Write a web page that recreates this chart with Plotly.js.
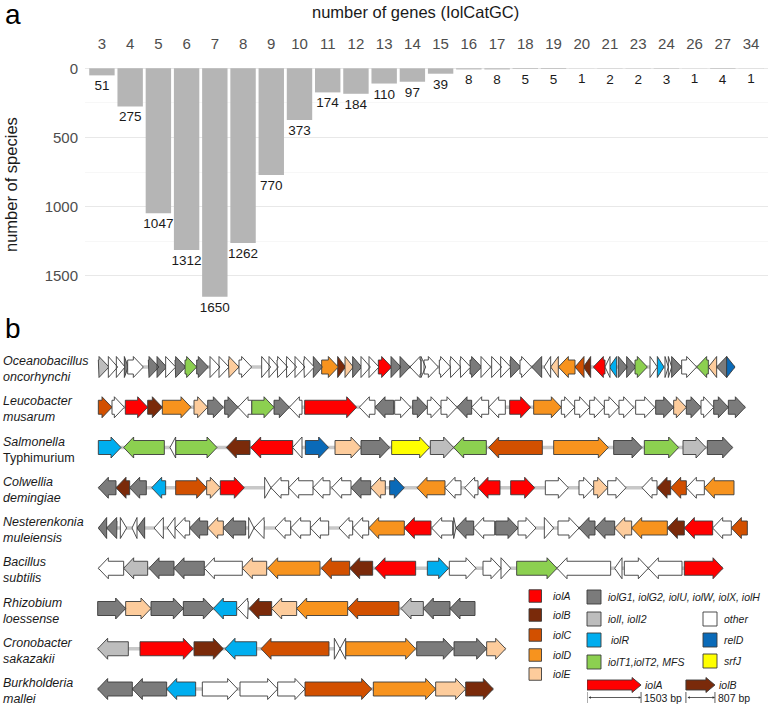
<!DOCTYPE html>
<html>
<head>
<meta charset="utf-8">
<script src="https://cdn.plot.ly/plotly-3.0.1.min.js"></script>
<style>html,body{margin:0;padding:0;background:#fff}#chart{width:771px;height:706px}</style>
</head>
<body>
<div id="chart"></div>
<script>
// ---------------- Panel a data ----------------
const geneCounts = ['3','4','5','6','7','8','9','10','11','12','13','14','15','16','17','18','19','20','21','23','24','26','27','34'];
const speciesCounts = [51,275,1047,1312,1650,1262,770,373,174,184,110,97,39,8,8,5,5,1,2,2,3,1,4,1];

// ---------------- Panel b data ----------------
// each gene: [start, end, class, strand]   (positions in scaled genomic units)
const speciesLine1 = ['Oceanobacillus','Leucobacter','Salmonella','Colwellia','Nesterenkonia','Bacillus','Rhizobium','Cronobacter','Burkholderia'];
const speciesLine2 = ['oncorhynchi','musarum','Typhimurium','demingiae','muleiensis','subtilis','loessense','sakazakii','mallei'];
const speciesLine2Italic = [true,true,false,true,true,true,true,true,true];

const genesOceanobacillus = [[10,42,'I',1],[40,68,'O',1],[64,90,'O',1],[88,100,'G',1],[98,145,'O',1],[160,192,'G',1],[186,215,'G',1],[212,242,'O',1],[240,272,'G',1],[270,305,'T',1],[305,340,'G',1],[345,375,'O',1],[372,402,'O',1],[400,432,'E',1],[432,470,'O',1],[500,527,'O',1],[522,550,'O',1],[546,578,'O',1],[574,605,'O',1],[600,630,'O',1],[626,658,'O',1],[655,682,'G',1],[680,730,'D',1],[728,752,'B',1],[750,775,'E',1],[773,800,'G',1],[798,826,'O',1],[822,852,'O',1],[850,890,'A',1],[888,918,'G',1],[915,945,'G',1],[945,978,'O',-1],[978,992,'O',1],[987,1030,'O',1],[1033,1067,'O',1],[1065,1097,'O',1],[1095,1127,'O',1],[1125,1160,'G',1],[1158,1187,'O',1],[1190,1220,'O',1],[1217,1247,'O',1],[1245,1277,'G',1],[1275,1310,'O',1],[1310,1340,'G',-1],[1347,1367,'O',-1],[1367,1390,'E',-1],[1390,1440,'D',-1],[1440,1467,'C',-1],[1465,1487,'B',-1],[1495,1530,'A',-1],[1530,1545,'O',-1],[1543,1565,'R',-1],[1570,1597,'G',1],[1595,1623,'G',1],[1620,1657,'T',1],[1665,1687,'O',1],[1687,1707,'R',1],[1710,1720,'O',1],[1720,1730,'O',1],[1730,1760,'G',1],[1760,1805,'O',1],[1805,1840,'T',-1],[1840,1865,'E',-1],[1865,1897,'G',-1],[1895,1920,'L',1]];
const genesLeucobacter = [[10,51,'C',1],[51,88,'O',1],[91,158,'A',1],[158,202,'B',1],[202,288,'D',1],[297,338,'E',1],[338,385,'G',1],[389,429,'G',1],[429,470,'O',-1],[470,537,'T',1],[537,583,'G',1],[583,621,'O',-1],[629,785,'A',1],[793,840,'O',-1],[840,896,'G',-1],[899,947,'O',1],[953,997,'G',1],[997,1038,'O',1],[1038,1086,'O',1],[1086,1130,'G',-1],[1130,1181,'O',-1],[1181,1231,'O',-1],[1244,1307,'A',1],[1316,1399,'D',1],[1399,1439,'O',1],[1439,1484,'O',1],[1484,1528,'O',1],[1528,1572,'O',1],[1572,1616,'O',1],[1622,1679,'O',1],[1682,1736,'G',1],[1736,1774,'E',1],[1774,1818,'G',1],[1818,1856,'O',1],[1856,1900,'G',1],[1900,1951,'G',1]];
const genesSalmonella = [[10,78,'R',1],[86,208,'T',-1],[225,242,'O',-1],[242,366,'T',1],[394,465,'B',-1],[467,593,'A',-1],[593,621,'O',-1],[631,701,'L',1],[720,798,'E',1],[798,884,'G',1],[890,1004,'S',1],[1006,1076,'I',1],[1076,1174,'T',-1],[1181,1342,'C',-1],[1376,1540,'D',1],[1556,1641,'G',1],[1648,1751,'T',1],[1764,1833,'I',1],[1837,1913,'G',1]];
const genesColwellia = [[10,63,'G',-1],[63,104,'B',-1],[104,154,'G',-1],[170,212,'R',-1],[242,335,'C',1],[335,376,'E',1],[376,448,'A',1],[509,528,'O',1],[528,581,'O',-1],[581,654,'O',-1],[654,705,'O',-1],[710,768,'O',-1],[768,827,'G',-1],[827,871,'E',-1],[884,928,'L',1],[966,1050,'D',-1],[1050,1098,'O',-1],[1109,1149,'O',-1],[1149,1215,'A',-1],[1247,1319,'A',1],[1351,1420,'O',1],[1452,1496,'O',1],[1496,1538,'E',1],[1538,1593,'O',1],[1641,1686,'O',-1],[1686,1727,'B',-1],[1727,1774,'C',-1],[1774,1828,'O',-1],[1828,1917,'D',-1]];
const genesNesterenkonia = [[10,35,'G',-1],[35,66,'G',-1],[76,95,'O',1],[111,126,'O',-1],[126,149,'G',-1],[177,205,'O',-1],[217,240,'O',-1],[240,284,'O',-1],[284,338,'G',-1],[338,385,'E',-1],[385,452,'G',-1],[461,477,'O',1],[477,508,'O',-1],[540,587,'O',-1],[587,646,'O',-1],[646,701,'O',-1],[732,773,'O',-1],[773,821,'O',-1],[821,928,'D',-1],[928,1008,'A',-1],[1010,1073,'O',-1],[1076,1083,'O',1],[1083,1136,'G',-1],[1136,1199,'O',-1],[1202,1269,'G',1],[1269,1323,'O',1],[1348,1376,'O',1],[1389,1452,'O',1],[1452,1500,'G',-1],[1500,1559,'G',-1],[1559,1610,'E',-1],[1610,1717,'D',-1],[1717,1768,'B',-1],[1768,1853,'A',-1],[1853,1909,'O',-1],[1909,1957,'C',-1]];
const genesBacillus = [[10,86,'O',-1],[86,158,'I',-1],[162,237,'G',-1],[237,328,'G',-1],[328,442,'O',-1],[442,515,'E',-1],[518,675,'D',-1],[679,764,'C',-1],[764,833,'B',-1],[840,962,'A',-1],[997,1061,'R',1],[1063,1143,'O',1],[1164,1218,'O',1],[1218,1247,'O',1],[1265,1386,'T',1],[1386,1547,'O',-1],[1559,1581,'O',-1],[1588,1660,'O',1],[1660,1761,'O',-1],[1768,1884,'A',1]];
const genesRhizobium = [[8,92,'G',1],[92,168,'E',1],[168,265,'G',1],[265,355,'G',1],[355,425,'R',-1],[428,460,'O',-1],[462,530,'B',-1],[530,605,'E',-1],[605,758,'D',-1],[758,912,'C',-1],[918,985,'I',-1],[985,1065,'G',-1],[1065,1140,'G',-1]];
const genesCronobacter = [[8,100,'I',-1],[135,295,'A',1],[297,385,'B',1],[390,485,'R',-1],[498,702,'C',-1],[718,735,'O',1],[735,752,'O',-1],[752,962,'D',1],[965,1075,'G',1],[1077,1175,'G',1],[1175,1232,'E',1]];
const genesBurkholderia = [[8,112,'G',-1],[112,215,'G',-1],[215,302,'R',-1],[322,428,'O',1],[435,548,'O',1],[548,630,'O',1],[630,830,'C',1],[835,1022,'D',1],[1022,1112,'E',1],[1112,1195,'B',1]];

const geneRows = [genesOceanobacillus, genesLeucobacter, genesSalmonella, genesColwellia, genesNesterenkonia, genesBacillus, genesRhizobium, genesCronobacter, genesBurkholderia];

// legend
const legendCol1Labels = ['iolA','iolB','iolC','iolD','iolE'];
const legendCol1Classes = ['A','B','C','D','E'];
const legendCol2Labels = ['iolG1, iolG2, iolU, iolW, iolX, iolH','iolI, iolI2',' iolR','iolT1,iolT2, MFS'];
const legendCol2Classes = ['G','I','R','T'];
const legendCol3Labels = ['other','relD','srfJ'];
const legendCol3Classes = ['O','L','S'];
const keyGeneNames = ['iolA','iolB'];
const keyGeneLengthBp = [1503, 807];
const keyGeneClasses = ['A','B'];

// ---------------- styles ----------------
const classColors = {A:'#ff0000',B:'#7a2a0a',C:'#d25000',D:'#f7931e',E:'#fdcc9c',G:'#7b7b7b',I:'#bdbdbd',R:'#00aeef',T:'#8cd050',O:'#ffffff',L:'#0a6ab8',S:'#ffff00'};
const W = 771, H = 706;
const px = x => x / W, py = y => 1 - y / H;
const ROW0 = 367, PITCH = 40.25;
const rowOf = y => (y - ROW0) / PITCH;
const HEAD_U = 30, HALF_HEAD = 10.5 / PITCH, HALF_BODY = 7 / PITCH;

function arrow(s, e, strand, yc, hh, hb, head) {
  const len = e - s, h = Math.min(head, len);
  let xs, ys;
  if (strand > 0) {
    if (h >= len) { xs = [s, e, s, s]; ys = [yc - hh, yc, yc + hh, yc - hh]; }
    else { const b = e - h; xs = [s, b, b, e, b, b, s, s]; ys = [yc - hb, yc - hb, yc - hh, yc, yc + hh, yc + hb, yc + hb, yc - hb]; }
  } else {
    if (h >= len) { xs = [e, s, e, e]; ys = [yc - hh, yc, yc + hh, yc - hh]; }
    else { const b = s + h; xs = [e, b, b, s, b, b, e, e]; ys = [yc - hb, yc - hb, yc - hh, yc, yc + hh, yc + hb, yc + hb, yc - hb]; }
  }
  return {xs, ys};
}

const traces = [];
// panel a bars
traces.push({
  type: 'bar', x: geneCounts, y: speciesCounts, xaxis: 'x', yaxis: 'y',
  marker: {color: '#b5b5b5', line: {width: 0}}, width: 0.9,
  text: speciesCounts.map(String), textposition: 'outside', constraintext: 'none', cliponaxis: false,
  textfont: {family: 'Liberation Sans, Arial, sans-serif', size: 13.5, color: '#1a1a1a'},
  hoverinfo: 'skip'
});

// backbones
const bbx = [], bby = [];
geneRows.forEach((row, i) => {
  const s = Math.min(...row.map(g => g[0])), e = Math.max(...row.map(g => g[1]));
  bbx.push(s, e, null); bby.push(i, i, null);
});
traces.push({type: 'scatter', mode: 'lines', x: bbx, y: bby, xaxis: 'x2', yaxis: 'y2',
  line: {color: '#c8c8c8', width: 3.5}, hoverinfo: 'skip'});

// gene arrows, one trace per class
Object.keys(classColors).forEach(cls => {
  const xs = [], ys = [];
  geneRows.forEach((row, i) => {
    row.forEach(g => {
      if (g[2] !== cls) return;
      const a = arrow(g[0], g[1], g[3], i, HALF_HEAD, HALF_BODY, HEAD_U);
      xs.push(...a.xs, null); ys.push(...a.ys, null);
    });
  });
  if (xs.length) traces.push({type: 'scatter', mode: 'lines', x: xs, y: ys, xaxis: 'x2', yaxis: 'y2',
    fill: 'toself', fillcolor: classColors[cls], line: {color: '#3a3a3a', width: 0.9}, hoverinfo: 'skip'});
});

// key arrows (bp axis)
const keyStartBp = [0, 2750];
const keyY = rowOf(685);
keyGeneNames.forEach((n, k) => {
  const a = arrow(keyStartBp[k], keyStartBp[k] + keyGeneLengthBp[k], 1, keyY, 7.5 / PITCH, 5 / PITCH, 250);
  traces.push({type: 'scatter', mode: 'lines', x: a.xs, y: a.ys, xaxis: 'x3', yaxis: 'y2',
    fill: 'toself', fillcolor: classColors[keyGeneClasses[k]], line: {color: '#3a3a3a', width: 0.9}, hoverinfo: 'skip'});
});

const FONT = 'Liberation Sans, Arial, sans-serif';
const annotations = [];
const shapes = [];
annotations.push({xref: 'paper', yref: 'paper', x: px(13), y: py(14), text: 'a', showarrow: false, xanchor: 'center', yanchor: 'middle', font: {family: FONT, size: 28, color: '#000'}});
annotations.push({xref: 'paper', yref: 'paper', x: px(13), y: py(328), text: 'b', showarrow: false, xanchor: 'center', yanchor: 'middle', font: {family: FONT, size: 28, color: '#000'}});
annotations.push({xref: 'paper', yref: 'paper', x: px(415), y: py(12), text: 'number of genes (IolCatGC)', showarrow: false, xanchor: 'center', yanchor: 'middle', font: {family: FONT, size: 16.5, color: '#1a1a1a'}});
annotations.push({xref: 'paper', yref: 'paper', x: px(11), y: py(185), text: 'number of species', textangle: -90, showarrow: false, xanchor: 'center', yanchor: 'middle', font: {family: FONT, size: 16.5, color: '#1a1a1a'}});

speciesLine1.forEach((n, i) => {
  const l2 = speciesLine2Italic[i] ? '<i>' + speciesLine2[i] + '</i>' : speciesLine2[i];
  annotations.push({xref: 'paper', yref: 'y2', x: px(1), y: i + 2 / PITCH, text: '<i>' + n + '</i><br>' + l2,
    showarrow: false, xanchor: 'left', yanchor: 'middle', align: 'left', font: {family: FONT, size: 12.5, color: '#1a1a1a'}});
});

function legendItem(x, yc, size, cls, label, tx) {
  shapes.push({type: 'rect', xref: 'paper', yref: 'paper', x0: px(x), x1: px(x + size), y0: py(yc + size / 2), y1: py(yc - size / 2),
    fillcolor: classColors[cls], line: {color: '#3a3a3a', width: 0.9}});
  annotations.push({xref: 'paper', yref: 'paper', x: px(tx), y: py(yc), text: '<i>' + label + '</i>', showarrow: false,
    xanchor: 'left', yanchor: 'middle', font: {family: FONT, size: 10.5, color: '#1a1a1a'}});
}
const col1Y = [596, 615, 635, 655, 674], col2Y = [597, 619, 640, 662], col3Y = [619, 640, 661];
legendCol1Labels.forEach((l, k) => legendItem(529, col1Y[k], 12.5, legendCol1Classes[k], l, 551));
legendCol2Labels.forEach((l, k) => legendItem(587, col2Y[k], 14, legendCol2Classes[k], l, 606));
legendCol3Labels.forEach((l, k) => legendItem(703, col3Y[k], 14, legendCol3Classes[k], l, 722));

const bracketY = rowOf(697.5);
keyGeneNames.forEach((n, k) => {
  const s = keyStartBp[k], e = s + keyGeneLengthBp[k];
  annotations.push({xref: 'x3', yref: 'y2', x: e, y: keyY, text: '<i>' + n + '</i>', showarrow: false, xanchor: 'left', yanchor: 'middle', xshift: 2,
    font: {family: FONT, size: 10.5, color: '#1a1a1a'}});
  annotations.push({xref: 'x3', yref: 'y2', x: e, y: bracketY, text: keyGeneLengthBp[k] + ' bp', showarrow: false, xanchor: 'left', yanchor: 'middle', xshift: 1,
    font: {family: FONT, size: 10.5, color: '#1a1a1a'}});
  annotations.push({xref: 'x3', yref: 'y2', axref: 'x3', ayref: 'y2', x: e, y: bracketY, ax: s, ay: bracketY, text: '', showarrow: true,
    arrowhead: 2, arrowside: 'end+start', arrowsize: 0.6, arrowwidth: 0.8, arrowcolor: '#333', standoff: 0, startstandoff: 0});
  [s, e].forEach(xv => shapes.push({type: 'line', xref: 'x3', yref: 'y2', x0: xv, x1: xv, y0: rowOf(692), y1: rowOf(703), line: {color: '#333', width: 0.8}}));
});

const layout = {
  width: W, height: H, margin: {l: 0, r: 0, t: 0, b: 0}, paper_bgcolor: '#fff', plot_bgcolor: 'rgba(0,0,0,0)',
  showlegend: false, font: {family: FONT},
  xaxis: {type: 'category', side: 'top', domain: [px(85), px(768)], range: [-0.6, 23.6], anchor: 'y',
    showgrid: false, zeroline: false, showline: false, ticks: '', ticklabelstandoff: 4,
    tickfont: {family: FONT, size: 15, color: '#4d4d4d'}},
  yaxis: {domain: [py(308.1), py(56.9)], range: [1732.5, -82.5], anchor: 'x', tickvals: [0, 500, 1000, 1500],
    showgrid: true, gridcolor: '#e8e8e8', gridwidth: 1.1, zeroline: false, showline: false, ticks: '', ticklabelstandoff: 6,
    tickfont: {family: FONT, size: 15, color: '#4d4d4d'},
    minor: {tickvals: [250, 750, 1250], showgrid: true, gridcolor: '#f2f2f2', gridwidth: 0.6}},
  xaxis2: {domain: [0, 1], range: [-285, 2028], anchor: 'y2', visible: false},
  yaxis2: {domain: [0, py(340)], range: [rowOf(706), rowOf(340)], anchor: 'x2', visible: false},
  xaxis3: {domain: [px(587), 1], range: [0, 184 * 27.8], anchor: 'y2', visible: false},
  annotations, shapes
};

Plotly.newPlot('chart', traces, layout, {staticPlot: true, displayModeBar: false});
</script>
</body>
</html>
